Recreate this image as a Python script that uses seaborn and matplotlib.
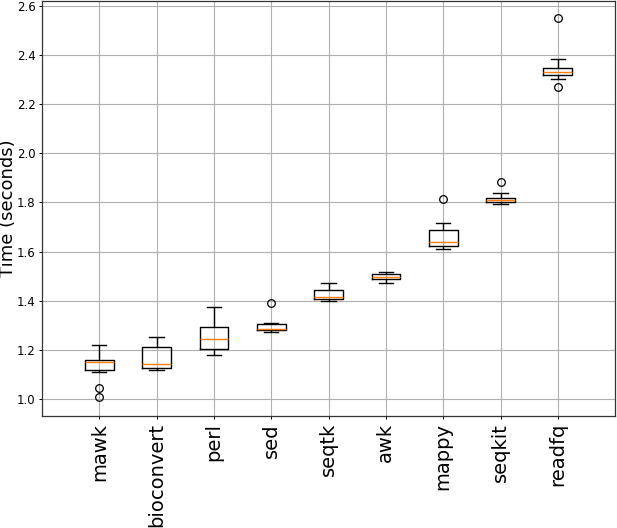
import numpy as np
import pandas as pd
import matplotlib
matplotlib.use("Agg")
import matplotlib.pyplot as plt
import seaborn as sns

# run times (seconds) per tool
tools = ["mawk", "bioconvert", "perl", "sed", "seqtk", "awk", "mappy", "seqkit", "readfq"]
mawk = [1.008, 1.044, 1.111, 1.118, 1.125, 1.140, 1.152, 1.154, 1.156, 1.159, 1.180, 1.200, 1.219]
bioconvert = [1.116, 1.125, 1.140, 1.211, 1.250]
perl = [1.177, 1.205, 1.245, 1.291, 1.376]
sed = [1.272, 1.276, 1.280, 1.282, 1.284, 1.295, 1.303, 1.310, 1.389]
seqtk = [1.399, 1.408, 1.415, 1.444, 1.471]
awk = [1.471, 1.489, 1.498, 1.507, 1.517]
mappy = [1.611, 1.617, 1.622, 1.630, 1.640, 1.665, 1.688, 1.717, 1.812]
seqkit = [1.792, 1.797, 1.801, 1.805, 1.808, 1.814, 1.820, 1.838, 1.884]
readfq = [2.271, 2.302, 2.320, 2.327, 2.333, 2.340, 2.346, 2.384, 2.551]


def main():
    samples = [mawk, bioconvert, perl, sed, seqtk, awk, mappy, seqkit, readfq]
    df = pd.DataFrame({
        "tool": [t for t, s in zip(tools, samples) for _ in s],
        "time": [v for s in samples for v in s],
    })

    fig = plt.figure(figsize=(6.17, 5.28), dpi=100)
    ax = fig.add_axes([0.068, 0.212, 0.929, 0.786])

    sns.boxplot(
        data=df, x="tool", y="time", order=tools, ax=ax,
        fill=False, color="black", width=0.5, linewidth=1.0,
        medianprops=dict(color="#ff7f0e", linewidth=1.0),
        flierprops=dict(marker="o", markerfacecolor="none",
                        markeredgecolor="black", markersize=5.5,
                        markeredgewidth=0.9),
        whis=1.5,
    )

    ax.set_xlim(-1, 9)
    ax.set_ylim(0.93, 2.62)
    ax.grid(True, color="#b0b0b0", linewidth=0.8)
    ax.set_axisbelow(True)
    ax.set_xlabel("")
    ax.set_ylabel("Time (seconds)", fontsize=13)
    ax.yaxis.set_label_coords(-0.044, 0.5)
    ax.tick_params(axis="both", length=2.5, width=0.7, pad=2.5)
    ax.tick_params(axis="x", labelsize=14, labelrotation=90)
    ax.tick_params(axis="y", labelsize=8.5, pad=2)
    for sp in ax.spines.values():
        sp.set_visible(True)
        sp.set_color("#333333")
        sp.set_linewidth(0.9)

    fig.savefig("out.png", dpi=100)


if __name__ == "__main__":
    main()
